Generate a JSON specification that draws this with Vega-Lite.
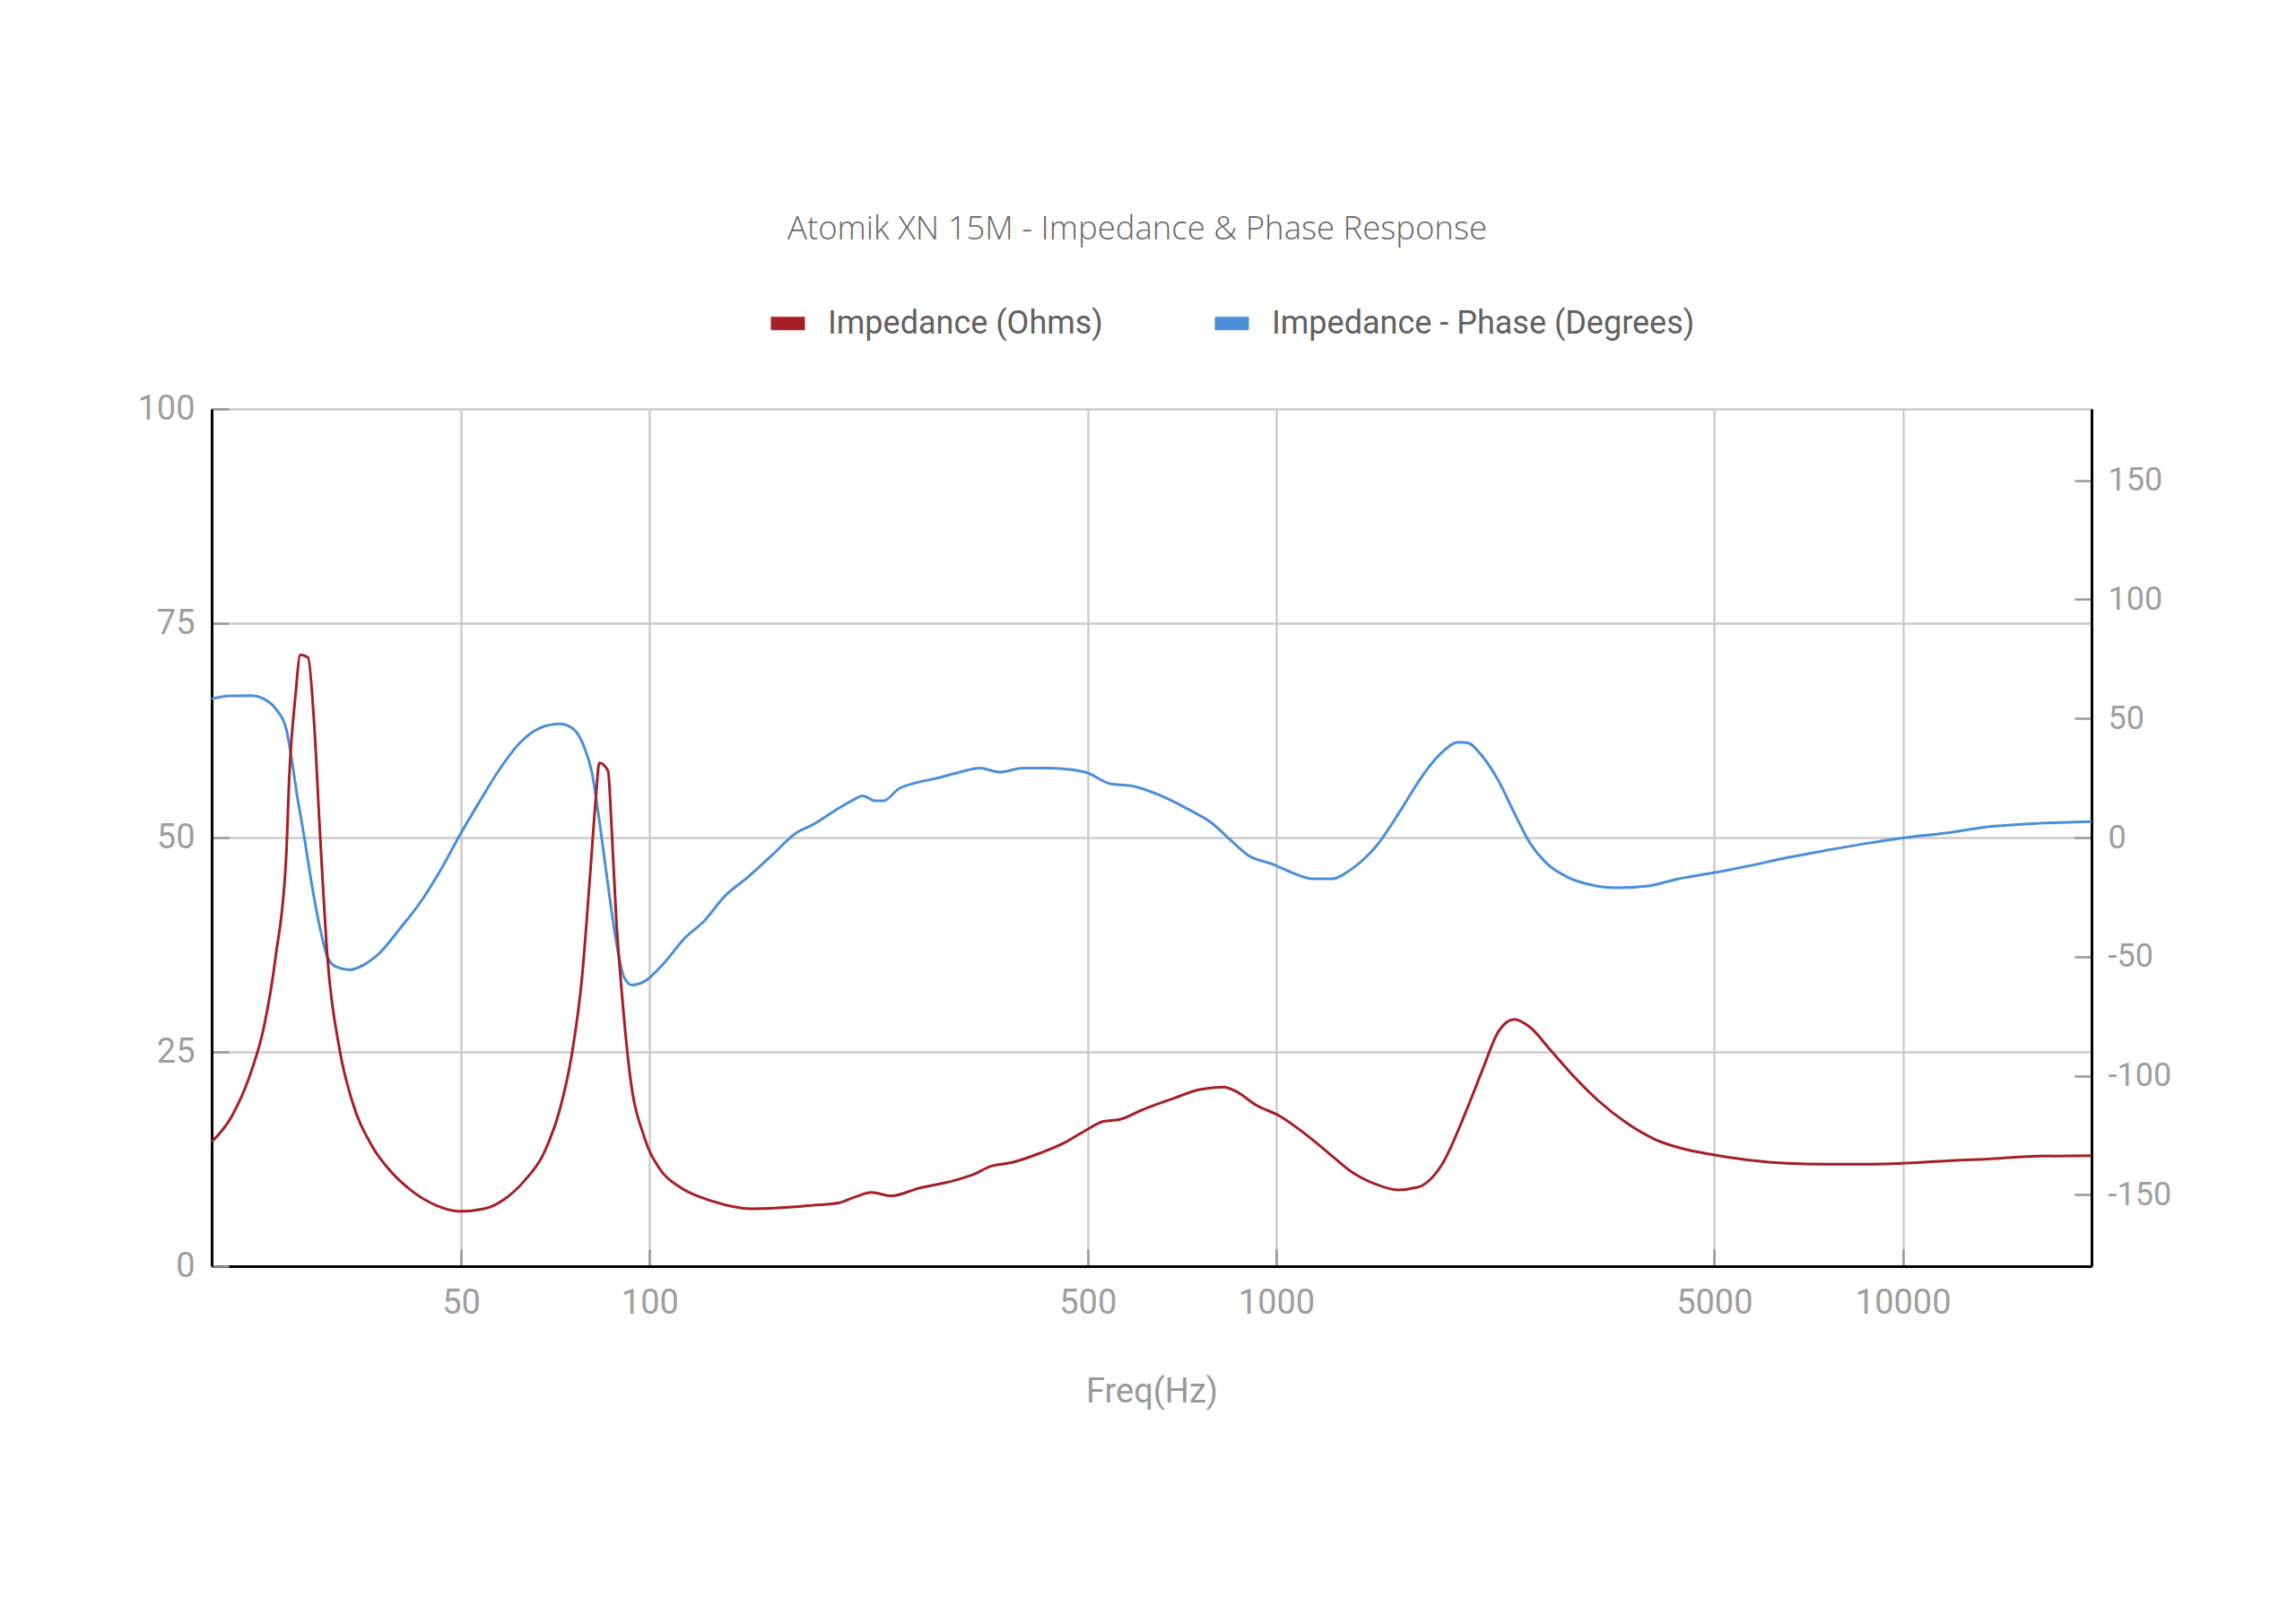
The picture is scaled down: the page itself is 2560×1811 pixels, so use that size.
{
  "$schema": "https://vega.github.io/schema/vega-lite/v6.json",
  "width": 2096,
  "height": 956,
  "autosize": {"type": "none"},
  "padding": {"left": 236, "top": 456, "right": 228, "bottom": 399},
  "background": "white",
  "title": {
    "text": "Atomik XN 15M - Impedance & Phase Response",
    "font": "Open Sans",
    "fontWeight": 300,
    "fontSize": 36.5,
    "color": "#666666",
    "anchor": "middle",
    "frame": "group",
    "baseline": "alphabetic",
    "dx": -16,
    "offset": 31
  },
  "datasets": {
    "impedance": [
      {"freq": 20, "ohms": 14.5}, {"freq": 21.5, "ohms": 17.4}, {"freq": 23.2, "ohms": 23.0},
      {"freq": 24.2, "ohms": 27.7}, {"freq": 25.3, "ohms": 36.1}, {"freq": 26.3, "ohms": 47.8},
      {"freq": 26.6, "ohms": 57.1}, {"freq": 27.2, "ohms": 66.4}, {"freq": 27.7, "ohms": 71.3},
      {"freq": 28.5, "ohms": 71.0}, {"freq": 29.1, "ohms": 64.1}, {"freq": 29.8, "ohms": 50.1},
      {"freq": 30.6, "ohms": 36.1}, {"freq": 32.0, "ohms": 25.3}, {"freq": 33.5, "ohms": 19.3},
      {"freq": 36.0, "ohms": 14.1}, {"freq": 38.8, "ohms": 10.9}, {"freq": 41.7, "ohms": 8.8},
      {"freq": 45.6, "ohms": 7.1}, {"freq": 49.8, "ohms": 6.4}, {"freq": 54.4, "ohms": 6.7},
      {"freq": 58.6, "ohms": 7.8}, {"freq": 63.0, "ohms": 9.9}, {"freq": 67.8, "ohms": 13.2},
      {"freq": 71.9, "ohms": 18.3}, {"freq": 75.2, "ohms": 24.9}, {"freq": 78.0, "ohms": 33.7},
      {"freq": 80.3, "ohms": 45.4}, {"freq": 82.1, "ohms": 54.8}, {"freq": 83.1, "ohms": 58.7},
      {"freq": 85.8, "ohms": 57.8}, {"freq": 87.1, "ohms": 50.1}, {"freq": 88.4, "ohms": 40.8},
      {"freq": 90.4, "ohms": 31.4}, {"freq": 93.1, "ohms": 22.1}, {"freq": 98.0, "ohms": 15.1},
      {"freq": 103.9, "ohms": 11.3}, {"freq": 111.9, "ohms": 9.2}, {"freq": 125.8, "ohms": 7.6},
      {"freq": 145.8, "ohms": 6.7}, {"freq": 168.9, "ohms": 6.9}, {"freq": 181.8, "ohms": 7.1},
      {"freq": 200.9, "ohms": 7.4}, {"freq": 213, "ohms": 8.1}, {"freq": 226, "ohms": 8.6},
      {"freq": 243, "ohms": 8.2}, {"freq": 269, "ohms": 9.1}, {"freq": 299, "ohms": 9.8},
      {"freq": 326, "ohms": 10.6}, {"freq": 352, "ohms": 11.7}, {"freq": 379, "ohms": 12.1},
      {"freq": 420, "ohms": 13.2}, {"freq": 459, "ohms": 14.4}, {"freq": 498, "ohms": 15.9},
      {"freq": 530, "ohms": 16.9}, {"freq": 562, "ohms": 17.1}, {"freq": 614, "ohms": 18.3},
      {"freq": 681, "ohms": 19.5}, {"freq": 755, "ohms": 20.6}, {"freq": 825, "ohms": 20.9},
      {"freq": 862, "ohms": 20.4}, {"freq": 928, "ohms": 18.8}, {"freq": 1014, "ohms": 17.5},
      {"freq": 1109, "ohms": 15.5}, {"freq": 1212, "ohms": 13.2}, {"freq": 1325, "ohms": 10.9},
      {"freq": 1449, "ohms": 9.5}, {"freq": 1560, "ohms": 8.9}, {"freq": 1680, "ohms": 9.2},
      {"freq": 1836, "ohms": 11.8}, {"freq": 2017, "ohms": 18.4}, {"freq": 2136, "ohms": 23.0},
      {"freq": 2263, "ohms": 27.4}, {"freq": 2397, "ohms": 28.8}, {"freq": 2539, "ohms": 27.9},
      {"freq": 2733, "ohms": 25.3}, {"freq": 2988, "ohms": 22.1}, {"freq": 3267, "ohms": 19.3},
      {"freq": 3624, "ohms": 16.7}, {"freq": 4020, "ohms": 14.8}, {"freq": 4459, "ohms": 13.7},
      {"freq": 4985, "ohms": 13.0}, {"freq": 5651, "ohms": 12.4}, {"freq": 6546, "ohms": 12.0},
      {"freq": 7582, "ohms": 11.9}, {"freq": 8782, "ohms": 11.9}, {"freq": 9990, "ohms": 12.0},
      {"freq": 11790, "ohms": 12.3}, {"freq": 13660, "ohms": 12.5}, {"freq": 15820, "ohms": 12.8},
      {"freq": 20000, "ohms": 12.9}
    ],
    "phase": [
      {"freq": 20, "deg": 58.3}, {"freq": 21.5, "deg": 59.5}, {"freq": 23.2, "deg": 59.6},
      {"freq": 24.2, "deg": 58.3}, {"freq": 25.3, "deg": 54.1}, {"freq": 26.3, "deg": 45.7},
      {"freq": 26.8, "deg": 33.9}, {"freq": 27.4, "deg": 17.1}, {"freq": 28.1, "deg": 0.3},
      {"freq": 28.9, "deg": -19.9}, {"freq": 29.8, "deg": -38.4}, {"freq": 30.6, "deg": -50.1},
      {"freq": 31.6, "deg": -54.3}, {"freq": 33.2, "deg": -55.5}, {"freq": 35.0, "deg": -53.4},
      {"freq": 37.1, "deg": -48.4}, {"freq": 39.9, "deg": -38.4}, {"freq": 43.0, "deg": -27.4},
      {"freq": 46.3, "deg": -14.0}, {"freq": 49.8, "deg": 1.1}, {"freq": 53.6, "deg": 15.4},
      {"freq": 57.7, "deg": 28.9}, {"freq": 62.1, "deg": 39.8}, {"freq": 66.8, "deg": 46.0},
      {"freq": 71.9, "deg": 47.7}, {"freq": 75.2, "deg": 46.0}, {"freq": 78.6, "deg": 38.1},
      {"freq": 80.9, "deg": 27.2}, {"freq": 83.3, "deg": 5.3}, {"freq": 85.8, "deg": -19.9},
      {"freq": 88.4, "deg": -43.4}, {"freq": 91.0, "deg": -58.5}, {"freq": 93.7, "deg": -61.9},
      {"freq": 98.0, "deg": -60.5}, {"freq": 105.5, "deg": -52.6}, {"freq": 113.5, "deg": -42.5},
      {"freq": 122.2, "deg": -35.0}, {"freq": 131.5, "deg": -24.9}, {"freq": 143.6, "deg": -16.5},
      {"freq": 156.9, "deg": -7.3}, {"freq": 171.4, "deg": 2.0}, {"freq": 181.8, "deg": 5.3},
      {"freq": 200.9, "deg": 12.5}, {"freq": 210, "deg": 15.4}, {"freq": 219, "deg": 17.5},
      {"freq": 229, "deg": 15.4}, {"freq": 236, "deg": 15.4}, {"freq": 250, "deg": 20.5},
      {"freq": 266, "deg": 23.0}, {"freq": 285, "deg": 24.7}, {"freq": 313, "deg": 27.5},
      {"freq": 336, "deg": 29.2}, {"freq": 362, "deg": 27.5}, {"freq": 395, "deg": 29.2},
      {"freq": 432, "deg": 29.2}, {"freq": 471, "deg": 28.5}, {"freq": 499, "deg": 27.2},
      {"freq": 545, "deg": 22.5}, {"freq": 586, "deg": 21.8}, {"freq": 650, "deg": 17.9},
      {"freq": 721, "deg": 12.1}, {"freq": 788, "deg": 6.2}, {"freq": 848, "deg": -1.4},
      {"freq": 900, "deg": -7.3}, {"freq": 984, "deg": -11.1}, {"freq": 1061, "deg": -14.8},
      {"freq": 1143, "deg": -17.3}, {"freq": 1231, "deg": -17.3}, {"freq": 1306, "deg": -14.0},
      {"freq": 1449, "deg": -3.1}, {"freq": 1585, "deg": 12.1}, {"freq": 1706, "deg": 25.5},
      {"freq": 1836, "deg": 35.6}, {"freq": 1949, "deg": 40.0}, {"freq": 2017, "deg": 39.8},
      {"freq": 2136, "deg": 33.9}, {"freq": 2263, "deg": 23.8}, {"freq": 2397, "deg": 10.4},
      {"freq": 2539, "deg": -2.2}, {"freq": 2694, "deg": -10.6}, {"freq": 2911, "deg": -16.5},
      {"freq": 3145, "deg": -19.6}, {"freq": 3497, "deg": -21.1}, {"freq": 3950, "deg": -20.2},
      {"freq": 4386, "deg": -17.3}, {"freq": 4985, "deg": -14.8}, {"freq": 5651, "deg": -12.0},
      {"freq": 6546, "deg": -8.4}, {"freq": 7582, "deg": -5.3}, {"freq": 8782, "deg": -2.4},
      {"freq": 9990, "deg": -0.2}, {"freq": 11790, "deg": 2.0}, {"freq": 13660, "deg": 4.5},
      {"freq": 15820, "deg": 5.7}, {"freq": 20000, "deg": 6.7}
    ]
  },
  "encoding": {
    "x": {
      "field": "freq",
      "type": "quantitative",
      "scale": {"type": "log", "domain": [20, 20000], "nice": false},
      "axis": {
        "title": "Freq(Hz)",
        "values": [50, 100, 500, 1000, 5000, 10000],
        "format": "d",
        "grid": true,
        "labelPadding": 41,
        "titlePadding": 61
      }
    }
  },
  "layer": [
    {
      "data": {"name": "phase"},
      "mark": {"type": "line", "interpolate": "monotone", "strokeWidth": 3},
      "encoding": {
        "y": {
          "field": "deg",
          "type": "quantitative",
          "scale": {"domain": [-180, 180], "nice": false},
          "axis": {
            "orient": "right",
            "title": null,
            "values": [-150, -100, -50, 0, 50, 100, 150],
            "labelExpr": "'' + datum.value",
            "grid": false,
            "labelFontSize": 36,
            "labelPadding": 37
          }
        },
        "color": {
          "datum": "Impedance - Phase (Degrees)",
          "scale": {
            "domain": ["Impedance (Ohms)", "Impedance - Phase (Degrees)"],
            "range": ["#a51f26", "#4a8fd8"]
          }
        }
      }
    },
    {
      "data": {"name": "impedance"},
      "mark": {"type": "line", "interpolate": "monotone", "strokeWidth": 3},
      "encoding": {
        "y": {
          "field": "ohms",
          "type": "quantitative",
          "scale": {"domain": [0, 100], "nice": false},
          "axis": {
            "orient": "left",
            "title": null,
            "values": [0, 25, 50, 75, 100],
            "grid": true,
            "labelPadding": 38
          }
        },
        "color": {"datum": "Impedance (Ohms)"}
      }
    }
  ],
  "resolve": {"scale": {"y": "independent"}},
  "config": {
    "view": {"stroke": null},
    "axis": {
      "domainColor": "#000000",
      "domainWidth": 3,
      "gridColor": "#cccccc",
      "gridWidth": 2.5,
      "tickColor": "#999999",
      "tickWidth": 2.5,
      "tickSize": -19,
      "labelFont": "Roboto",
      "labelFontSize": 38,
      "labelColor": "#9e9e9e",
      "titleFont": "Roboto",
      "titleFontSize": 38,
      "titleFontWeight": "normal",
      "titleColor": "#999999"
    },
    "legend": {
      "orient": "none",
      "legendX": 616,
      "legendY": -122,
      "direction": "horizontal",
      "title": null,
      "symbolType": "stroke",
      "symbolSize": 1444,
      "symbolStrokeWidth": 15,
      "labelFont": "Roboto",
      "labelFontSize": 36,
      "labelColor": "#616161",
      "labelOffset": 18,
      "columnPadding": 94,
      "labelLimit": 800
    }
  }
}
